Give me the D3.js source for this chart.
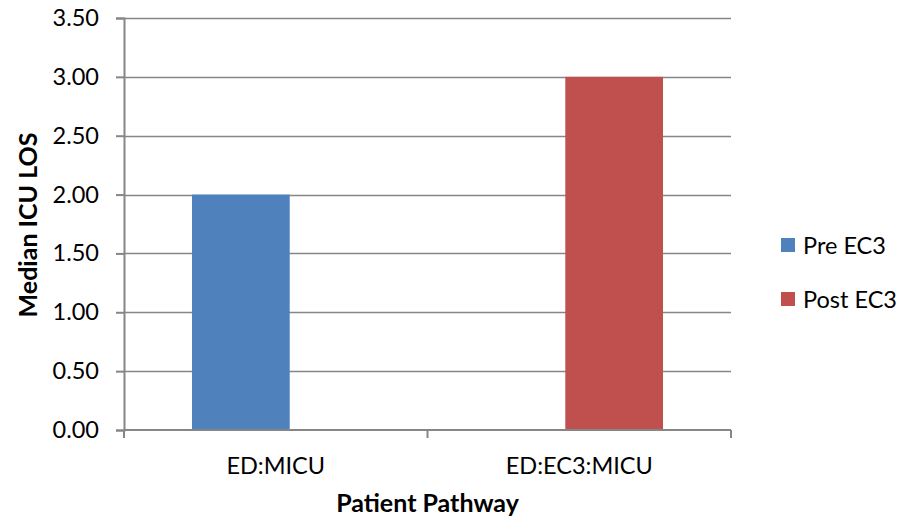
<!DOCTYPE html>
<html>
<head>
<meta charset="utf-8">
<script src="https://cdn.jsdelivr.net/npm/d3@7"></script>
<style>
  html, body { margin: 0; padding: 0; background: #fff; }
  svg { display: block; font-family: Lato, "Open Sans", sans-serif; }
</style>
</head>
<body>
<svg id="chart" width="908" height="520"></svg>
<script>
// Median ICU length of stay by patient pathway, before and after EC3
const categories = ["ED:MICU", "ED:EC3:MICU"];
const seriesNames = ["Pre EC3", "Post EC3"];
const preEC3 = [2.00, null];
const postEC3 = [null, 3.00];
const seriesColors = ["#4F81BD", "#C0504D"];
const yTicks = [0, 0.5, 1, 1.5, 2, 2.5, 3, 3.5];

const seriesValues = [preEC3, postEC3];
const rows = [];
categories.forEach((c, ci) => {
  seriesNames.forEach((s, si) => {
    const v = seriesValues[si][ci];
    if (v != null) rows.push({ category: c, series: s, si, value: v });
  });
});

const svg = d3.select("#chart");
const margin = { left: 124, right: 177, top: 18, bottom: 90 };
const W = 908, H = 520;
const plotL = margin.left, plotR = W - margin.right;
const plotT = margin.top, plotB = H - margin.bottom;

const x0 = d3.scaleBand().domain(categories).range([plotL, plotR]).padding(0);
const bw = x0.bandwidth();
const x1 = d3.scalePoint().domain(seriesNames).range([-bw * 0.115, bw * 0.115]);
const barW = bw * 0.322;
const y = d3.scaleLinear().domain([0, 3.5]).range([plotB, plotT]);

const gridColor = "#868686";

// horizontal gridlines
svg.append("g")
  .selectAll("line")
  .data(yTicks.filter(t => t > 0))
  .join("line")
  .attr("x1", plotL).attr("x2", plotR)
  .attr("y1", d => Math.round(y(d)) + 0.5).attr("y2", d => Math.round(y(d)) + 0.5)
  .attr("stroke", gridColor).attr("stroke-width", 1.5);

// bars
svg.append("g")
  .selectAll("rect")
  .data(rows)
  .join("rect")
  .attr("x", d => x0(d.category) + bw / 2 + x1(d.series) - barW / 2)
  .attr("width", barW)
  .attr("y", d => y(d.value))
  .attr("height", d => y(0) - y(d.value))
  .attr("fill", d => seriesColors[d.si]);

// y axis
const yAxis = svg.append("g")
  .attr("transform", `translate(${plotL},0)`)
  .call(d3.axisLeft(y).tickValues(yTicks).tickFormat(d3.format(".2f")).tickSize(8).tickPadding(17));
yAxis.select(".domain").attr("stroke", gridColor).attr("stroke-width", 2);
yAxis.selectAll(".tick line").attr("stroke", gridColor).attr("stroke-width", 2);
yAxis.selectAll(".tick text")
  .attr("fill", "#000").style("font-size", "23.5px").style("font-family", "Lato, sans-serif");

// x axis with boundary ticks between categories
const xAxis = svg.append("g").attr("transform", `translate(0,${plotB})`);
xAxis.append("line")
  .attr("x1", plotL).attr("x2", plotR)
  .attr("stroke", gridColor).attr("stroke-width", 2);
const boundaries = categories.map(c => x0(c)).concat([x0(categories[categories.length - 1]) + bw]);
xAxis.selectAll("line.tk")
  .data(boundaries)
  .join("line").attr("class", "tk")
  .attr("x1", d => d).attr("x2", d => d)
  .attr("y1", 0).attr("y2", 8)
  .attr("stroke", gridColor).attr("stroke-width", 2);
xAxis.selectAll("text")
  .data(categories)
  .join("text")
  .attr("x", d => x0(d) + bw / 2)
  .attr("y", 44)
  .attr("text-anchor", "middle")
  .style("font-size", "23.5px")
  .attr("fill", "#000")
  .text(d => d);

// axis titles
svg.append("text")
  .attr("x", (plotL + plotR) / 2).attr("y", 512)
  .attr("text-anchor", "middle")
  .style("font-size", "25px").style("font-weight", "bold")
  .text("Patient Pathway");

svg.append("text")
  .attr("transform", `translate(37,${(plotT + plotB) / 2 + 1}) rotate(-90)`)
  .attr("text-anchor", "middle")
  .style("font-size", "25px").style("font-weight", "bold")
  .text("Median ICU LOS");

// legend
const legend = svg.append("g").attr("transform", "translate(781,238)");
const li = legend.selectAll("g")
  .data(seriesNames)
  .join("g")
  .attr("transform", (d, i) => `translate(0,${i * 54})`);
li.append("rect")
  .attr("width", 14).attr("height", 14)
  .attr("fill", (d, i) => seriesColors[i]);
li.append("text")
  .attr("x", 22).attr("y", 16)
  .style("font-size", "23.5px")
  .text(d => d);
</script>
</body>
</html>
